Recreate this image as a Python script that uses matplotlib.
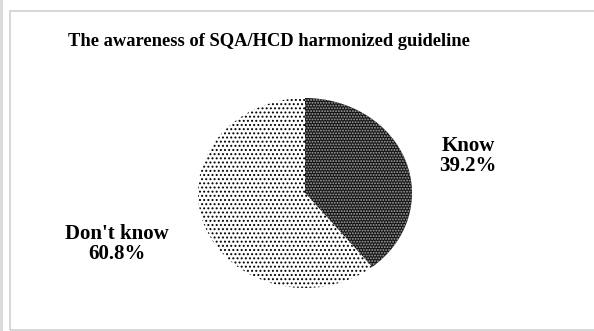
import matplotlib.pyplot as plt
from matplotlib.patches import Rectangle

labels = ["Know", "Don't know"]
shares = [39.2, 60.8]
face_colors = ["#141414", "white"]
hatch_colors = ["#a8a8a8", "black"]
hatches = ["......", "...."]

title = "The awareness of SQA/HCD harmonized guideline"

plt.rcParams['font.family'] = ['Liberation Serif', 'DejaVu Serif']
plt.rcParams['hatch.linewidth'] = 0.9

fig = plt.figure(figsize=(5.94, 3.31), dpi=100)
fig.patch.set_facecolor("white")

# chart frame and the strip at the left edge
fig.patches.append(Rectangle((9.5 / 594, 1.5 / 331), 1.2, 1 - 12 / 331,
                             transform=fig.transFigure, fill=False,
                             edgecolor="#d0d0d0", linewidth=1.2))
fig.patches.append(Rectangle((0, 0), 3 / 594, 1, transform=fig.transFigure,
                             facecolor="#dcdcdc", edgecolor="none"))

# pie area, slightly wider than tall
ax = fig.add_axes([198 / 594, 1 - 288 / 331, 214 / 594, 190 / 331])
wedges, _ = ax.pie(shares, startangle=90, counterclock=False,
                   colors=face_colors, radius=1,
                   wedgeprops=dict(linewidth=0))
for w, h, hc in zip(wedges, hatches, hatch_colors):
    w.set_hatch(h)
    w.set_edgecolor(hc)
    w.set_linewidth(0)
ax.set_aspect('auto')
ax.set_xlim(-1, 1)
ax.set_ylim(-1, 1)

fig.text(269 / 594, 1 - 42 / 331, title, ha="center", va="center",
         fontsize=13.3, fontweight="bold")

label_pos = [(468, 156), (117, 244)]
for lab, val, (x, y) in zip(labels, shares, label_pos):
    fig.text(x / 594, 1 - y / 331, f"{lab}\n{val:.1f}%", ha="center",
             va="center", fontsize=15, fontweight="bold", linespacing=1.05)

fig.savefig("out.png", dpi=100)
